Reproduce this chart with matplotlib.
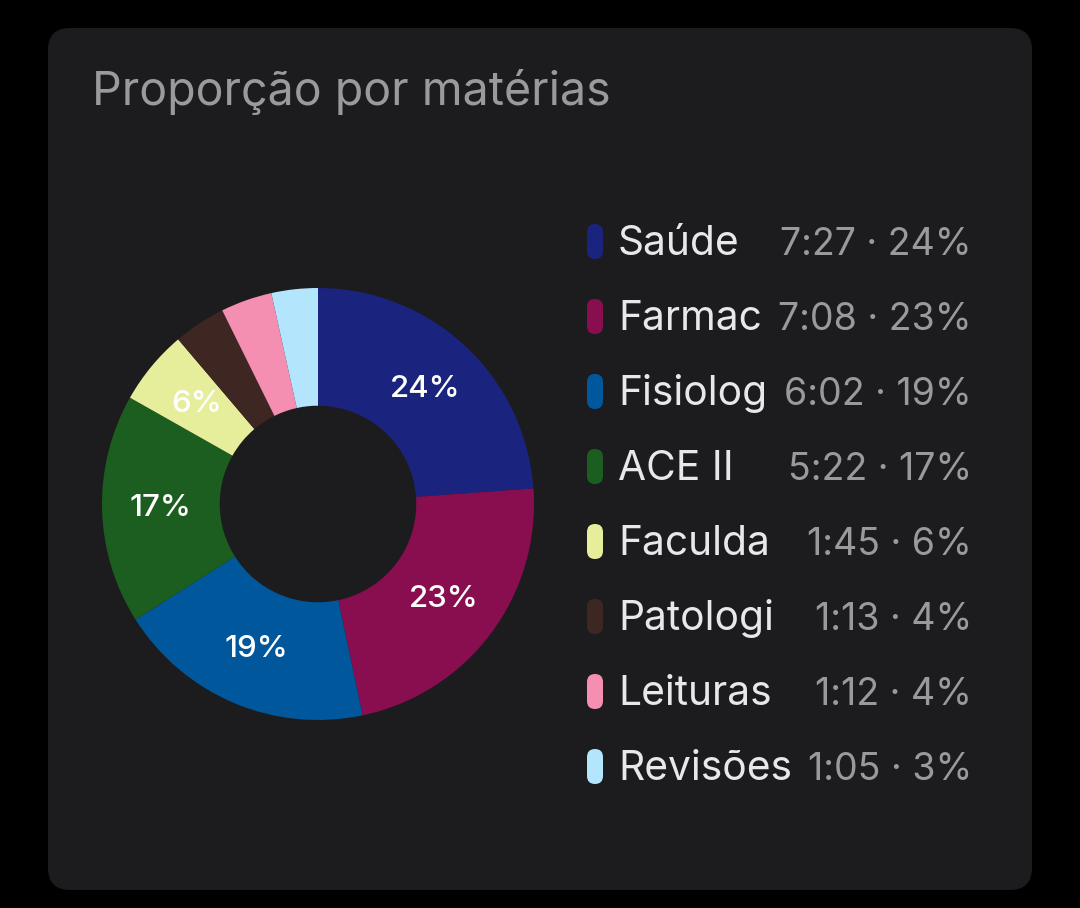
import matplotlib
matplotlib.use("Agg")
import matplotlib.pyplot as plt
from matplotlib.patches import FancyBboxPatch

plt.rcParams['font.family'] = ['Inter', 'DejaVu Sans']

# data
subjects = ['Saúde', 'Farmac', 'Fisiolog', 'ACE II', 'Faculda', 'Patologi', 'Leituras', 'Revisões']
times = ['7:27', '7:08', '6:02', '5:22', '1:45', '1:13', '1:12', '1:05']
colors = ['#1a237e', '#880e4f', '#01579b', '#1b5e20', '#e6ee9c', '#3e2723', '#f48fb1', '#b3e5fc']
title = 'Proporção por matérias'

minutes = [int(t.split(':')[0]) * 60 + int(t.split(':')[1]) for t in times]
total = sum(minutes)
pcts = [round(100 * m / total) for m in minutes]

W, H = 1080, 908
fig = plt.figure(figsize=(W / 100, H / 100), dpi=100, facecolor='black')

# overlay axes in pixel coords for the card and the legend
bg = fig.add_axes([0, 0, 1, 1])
bg.set_xlim(0, W)
bg.set_ylim(H, 0)
bg.axis('off')
card = FancyBboxPatch((48, 28), 984, 862, boxstyle='round,pad=0,rounding_size=22',
                      facecolor='#1c1c1e', edgecolor='none')
bg.add_patch(card)
bg.text(92, 105, title, color='#9a9a9e', fontsize=33.5, va='baseline', ha='left')

# donut
cx, cy, r = 318, 504, 216
ax = fig.add_axes([(cx - r) / W, (H - cy - r) / H, 2 * r / W, 2 * r / H])
ax.set_facecolor('none')


def fmt(p):
    return f'{p:.0f}%' if p >= 5 else ''


wedges, _, autotexts = ax.pie(minutes, colors=colors, startangle=90, counterclock=False,
                              radius=1, autopct=fmt, pctdistance=0.73,
                              wedgeprops=dict(width=0.545, linewidth=0),
                              textprops=dict(color='white', fontsize=22.5, weight='medium'))
ax.set_xlim(-1, 1)
ax.set_ylim(-1, 1)
ax.set_aspect('equal')

# legend
y0, dy = 255, 75
for i, (name, t, p, c) in enumerate(zip(subjects, times, pcts, colors)):
    y = y0 + i * dy
    bg.add_patch(FancyBboxPatch((587, y - 31), 16, 35, boxstyle='round,pad=0,rounding_size=8',
                                facecolor=c, edgecolor='none'))
    bg.text(618, y, name, color='#e8e8ea', fontsize=29.3, va='baseline', ha='left')
    bg.text(972, y, f'{t} · {p}%', color='#9a9a9e', fontsize=27, va='baseline', ha='right')

fig.savefig('out.png', dpi=100, facecolor='black')
